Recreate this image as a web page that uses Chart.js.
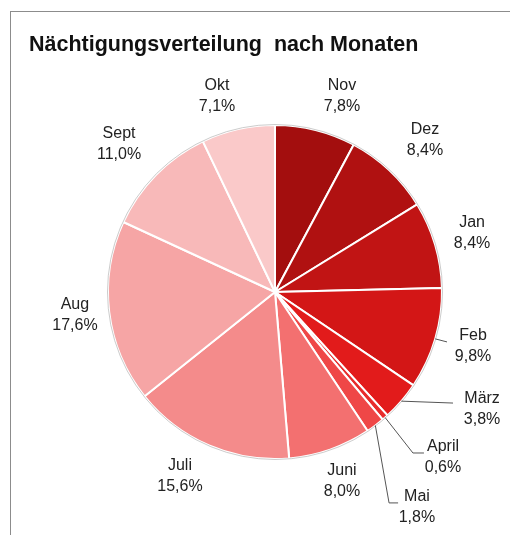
<!DOCTYPE html>
<html>
<head>
<meta charset="utf-8">
<script src="https://cdn.jsdelivr.net/npm/chart.js@4.4.0/dist/chart.umd.min.js"></script>
<style>
  html, body { margin: 0; padding: 0; background: #fff; }
  #wrap { position: relative; width: 510px; height: 535px; overflow: hidden; }
  #frame { position: absolute; left: 10px; top: 11px; width: 560px; height: 600px; border: 1px solid #8c8c8c; box-sizing: border-box; }
  #title { position: absolute; left: 29px; top: 32px; font-family: "Liberation Sans", Arial, sans-serif; font-weight: bold; font-size: 21.5px; color: #111; white-space: pre; }
  #c { position: absolute; left: 0; top: 0; }
</style>
</head>
<body>
<div id="wrap">
  <div id="frame"></div>
  <canvas id="c" width="510" height="535"></canvas>
  <div id="title">Nächtigungsverteilung  nach Monaten</div>
</div>
<script>
const months = ["Nov", "Dez", "Jan", "Feb", "März", "April", "Mai", "Juni", "Juli", "Aug", "Sept", "Okt"];
const shares = [7.8, 8.4, 8.4, 9.8, 3.8, 0.6, 1.8, 8.0, 15.6, 17.6, 11.0, 7.1];
const percentLabels = ["7,8%", "8,4%", "8,4%", "9,8%", "3,8%", "0,6%", "1,8%", "8,0%", "15,6%", "17,6%", "11,0%", "7,1%"];
const sliceColors = ["#A30E0E", "#B01111", "#C11414", "#D31616", "#E21B1B", "#E82B2B", "#EF4747", "#F37070", "#F48B8B", "#F6A5A5", "#F8B9B9", "#FAC9C9"];

// label layout, in units of pie radius, relative to the pie center
const labelPos = [
  [0.401, -1.174], [0.898, -0.910], [1.180, -0.353], [1.186, 0.323],
  [1.240, 0.701], [1.006, 0.988], [0.850, 1.287], [0.401, 1.132],
  [-0.569, 1.102], [-1.198, 0.138], [-0.934, -0.886], [-0.347, -1.174]
];
// leader lines: extra points after the slice edge point (radius units)
const leaders = {
  3: [[1.030, 0.299]],
  4: [[1.066, 0.665]],
  5: [[0.826, 0.964], [0.892, 0.964]],
  6: [[0.683, 1.263], [0.737, 1.263]]
};

const labelPlugin = {
  id: 'sliceLabels',
  afterDatasetsDraw(chart) {
    const ctx = chart.ctx;
    const meta = chart.getDatasetMeta(0);
    ctx.save();
    // outer rim
    const a0 = meta.data[0];
    ctx.beginPath();
    ctx.arc(a0.x, a0.y, a0.outerRadius + 0.5, 0, Math.PI * 2);
    ctx.strokeStyle = 'rgba(170,170,170,0.6)';
    ctx.lineWidth = 1;
    ctx.stroke();
    meta.data.forEach((arc, i) => {
      const cx = arc.x, cy = arc.y, r = arc.outerRadius;
      if (leaders[i]) {
        const mid = (arc.startAngle + arc.endAngle) / 2;
        ctx.beginPath();
        ctx.moveTo(cx + Math.cos(mid) * r, cy + Math.sin(mid) * r);
        leaders[i].forEach(p => ctx.lineTo(cx + p[0] * r, cy + p[1] * r));
        ctx.strokeStyle = '#555';
        ctx.lineWidth = 1;
        ctx.stroke();
      }
      const lx = cx + labelPos[i][0] * r;
      const ly = cy + labelPos[i][1] * r;
      ctx.fillStyle = '#222';
      ctx.font = '16px "Liberation Sans", Arial, sans-serif';
      ctx.textAlign = 'center';
      ctx.textBaseline = 'middle';
      ctx.fillText(months[i], lx, ly - 10.5);
      ctx.fillText(percentLabels[i], lx, ly + 10.5);
    });
    ctx.restore();
  }
};

new Chart(document.getElementById('c'), {
  type: 'pie',
  data: {
    labels: months,
    datasets: [{
      data: shares,
      backgroundColor: sliceColors,
      borderColor: '#ffffff',
      borderWidth: 2
    }]
  },
  options: {
    responsive: false,
    animation: false,
    layout: { padding: { left: 107, right: 67, top: 124, bottom: 75 } },
    plugins: {
      legend: { display: false },
      tooltip: { enabled: false },
      title: { display: false }
    }
  },
  plugins: [labelPlugin]
});
</script>
</body>
</html>
